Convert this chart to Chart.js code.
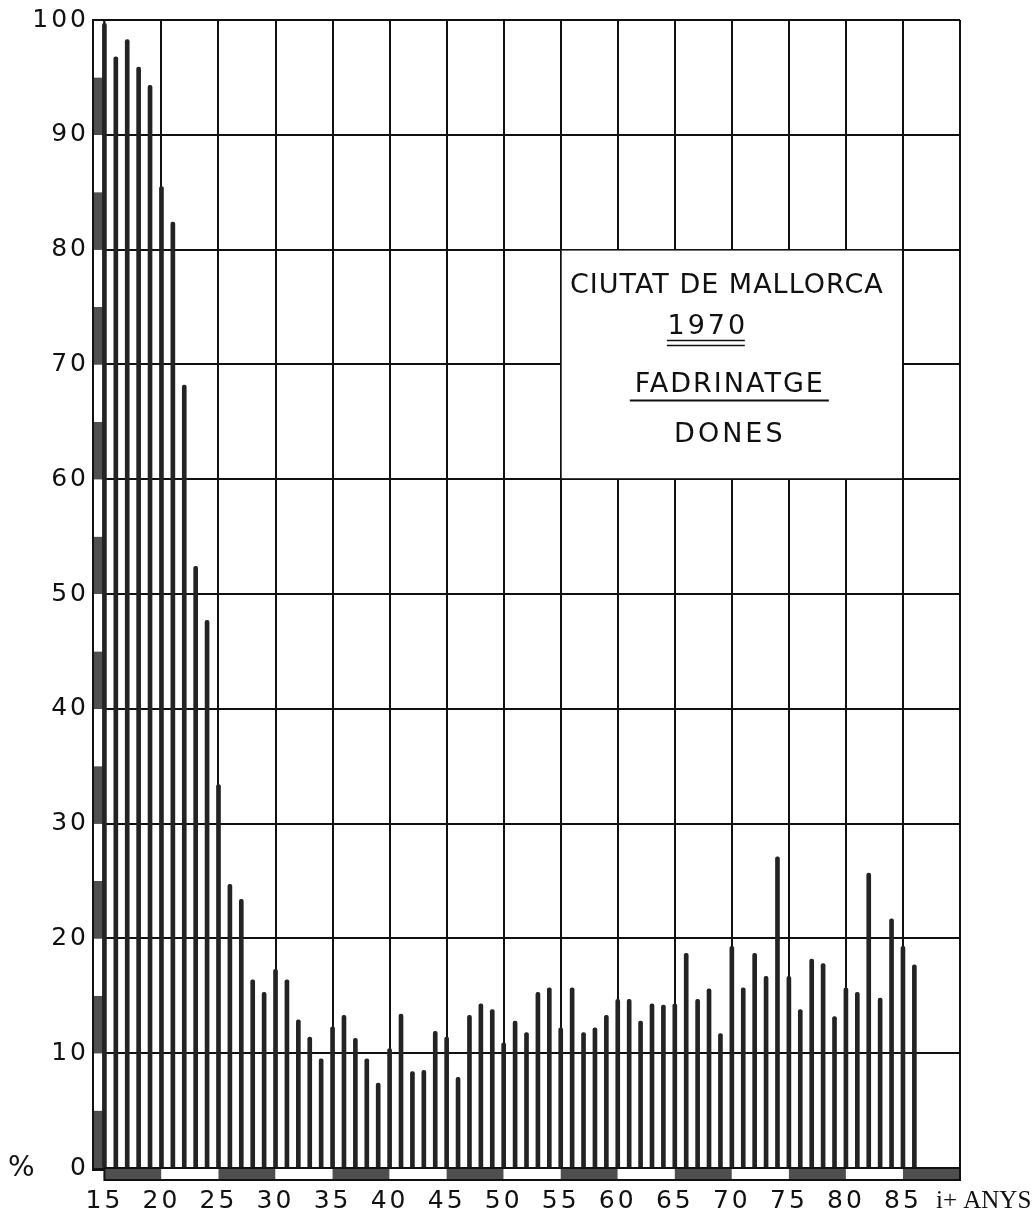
<!DOCTYPE html>
<html>
<head>
<meta charset="utf-8">
<title>Ciutat de Mallorca 1970 - Fadrinatge dones</title>
<script src="https://cdn.jsdelivr.net/npm/chart.js@4.4.1/dist/chart.umd.min.js"></script>
<style>
  html, body { margin: 0; padding: 0; background: #fff; }
  #wrap { width: 1036px; height: 1225px; }
</style>
</head>
<body>
<div id="wrap"><canvas id="fadrinatge-chart" width="1036" height="1225"></canvas></div>
<script>
// ages (the last bar stands for "85 i +")
const ages = [
  15, 16, 17, 18, 19, 20, 21, 22, 23, 24,
  25, 26, 27, 28, 29, 30, 31, 32, 33, 34,
  35, 36, 37, 38, 39, 40, 41, 42, 43, 44,
  45, 46, 47, 48, 49, 50, 51, 52, 53, 54,
  55, 56, 57, 58, 59, 60, 61, 62, 63, 64,
  65, 66, 67, 68, 69, 70, 71, 72, 73, 74,
  75, 76, 77, 78, 79, 80, 81, 82, 83, 84,
  85, 86
];

// % of single women at each age
const singlePct = [
  99.7, 96.8, 98.3, 95.9, 94.3, 85.5, 82.4, 68.2, 52.4, 47.7,
  33.4, 24.7, 23.4, 16.4, 15.3, 17.3, 16.4, 12.9, 11.4, 9.5,
  12.3, 13.3, 11.3, 9.5, 7.4, 10.4, 13.4, 8.4, 8.5, 11.9,
  11.4, 7.9, 13.3, 14.3, 13.8, 10.9, 12.8, 11.8, 15.3, 15.7,
  12.2, 15.7, 11.8, 12.2, 13.3, 14.7, 14.7, 12.8, 14.3, 14.2,
  14.3, 18.7, 14.7, 15.6, 11.7, 19.3, 15.7, 18.7, 16.7, 27.1,
  16.7, 13.8, 18.2, 17.8, 13.2, 15.7, 15.3, 25.7, 14.8, 21.7,
  19.3, 17.7
];

const xTicks = [14, 15, 20, 25, 30, 35, 40, 45, 50, 55, 60, 65, 70, 75, 80, 85, 90];
const yTicks = [0, 10, 20, 30, 40, 50, 60, 70, 80, 90, 100];
const boxTitle = ["CIUTAT DE MALLORCA", "1970", "FADRINATGE", "DONES"];
const xUnit = "i+ ANYS";

const INK = "#111";
const STIPPLE = "#4f4f4f";

const framePlugin = {
  id: "frame",
  beforeDraw(chart) {
    chart.ctx.letterSpacing = "3px";
  },
  beforeDatasetsDraw(chart) {
    const { ctx, scales: { x, y } } = chart;
    ctx.save();

    // left border strip, alternating every 5 %
    const sx0 = x.getPixelForValue(14), sx1 = x.getPixelForValue(15);
    for (let v = 0; v < 100; v += 5) {
      const top = y.getPixelForValue(v + 5), bot = y.getPixelForValue(v);
      ctx.fillStyle = (v / 5) % 2 === 0 ? STIPPLE : "#fff";
      ctx.fillRect(sx0 + 1, top, sx1 - sx0 - 2, bot - top);
    }
    ctx.strokeStyle = INK;
    ctx.lineWidth = 2;
    ctx.strokeRect(sx0, y.getPixelForValue(100), sx1 - sx0, y.getPixelForValue(0) - y.getPixelForValue(100) + 2);

    // bottom strip, alternating every 5 years
    const by0 = y.getPixelForValue(0), by1 = by0 + 12;
    for (let a = 15; a < 90; a += 5) {
      const l = x.getPixelForValue(a), r = x.getPixelForValue(a + 5);
      ctx.fillStyle = ((a - 15) / 5) % 2 === 0 ? STIPPLE : "#fff";
      ctx.fillRect(l, by0, r - l, by1 - by0);
    }
    ctx.strokeRect(x.getPixelForValue(15), by0, x.getPixelForValue(90) - x.getPixelForValue(15), by1 - by0);

    // white title box between ages 55-85 and 60-80 %
    const bl = x.getPixelForValue(55), br = x.getPixelForValue(85);
    const bt = y.getPixelForValue(80), bb = y.getPixelForValue(60);
    ctx.fillStyle = "#fff";
    ctx.fillRect(bl + 1, bt + 1, br - bl - 2, bb - bt - 2);

    ctx.fillStyle = INK;
    ctx.font = "27px 'DejaVu Sans'";
    ctx.textAlign = "center";
    ctx.textBaseline = "middle";
    ctx.letterSpacing = "1px";
    const cx = (bl + br) / 2;
    ctx.fillText(boxTitle[0], cx - 5, bt + 36);
    ctx.letterSpacing = "3px";
    ctx.fillText(boxTitle[1], cx - 24, bt + 77);
    ctx.letterSpacing = "2px";
    ctx.fillText(boxTitle[2], cx - 2, bt + 135);
    ctx.letterSpacing = "3px";
    ctx.fillText(boxTitle[3], cx - 2, bt + 185);

    // underlines
    ctx.lineWidth = 1.5;
    ctx.beginPath();
    ctx.moveTo(cx - 65, bt + 91); ctx.lineTo(cx + 13, bt + 91);
    ctx.moveTo(cx - 65, bt + 96); ctx.lineTo(cx + 13, bt + 96);
    ctx.stroke();
    ctx.lineWidth = 2;
    ctx.beginPath();
    ctx.moveTo(cx - 102, bt + 151); ctx.lineTo(cx + 97, bt + 151);
    ctx.stroke();
    ctx.restore();
  },
  afterDraw(chart) {
    const { ctx, scales: { x, y } } = chart;
    ctx.save();
    ctx.fillStyle = INK;
    ctx.textBaseline = "middle";
    ctx.letterSpacing = "2px";
    ctx.textAlign = "left";
    ctx.font = "28px 'DejaVu Sans'";
    ctx.fillText("%", 8, y.getPixelForValue(0) + 1);
    ctx.letterSpacing = "0px";
    ctx.font = "25px 'Liberation Serif'";
    ctx.fillText(xUnit, x.getPixelForValue(85) + 33, 1201);
    ctx.restore();
  }
};

const tickFont = { family: "DejaVu Sans", size: 25 };

new Chart(document.getElementById("fadrinatge-chart"), {
  type: "bar",
  data: {
    datasets: [
      {
        label: "Fadrinatge dones (%)",
        data: ages.map((a, i) => ({ x: a, y: singlePct[i] })),
        backgroundColor: "#232323",
        borderWidth: 0,
        barThickness: 4,
        borderRadius: { topLeft: 2, topRight: 2 },
        borderSkipped: "bottom",
      },
    ],
  },
  options: {
    responsive: false,
    animation: false,
    devicePixelRatio: 1,
    layout: { padding: { top: 20, right: 76, left: 0, bottom: 0 } },
    plugins: {
      legend: { display: false },
      tooltip: { enabled: false },
    },
    scales: {
      x: {
        type: "linear",
        min: 14,
        max: 90,
        offset: false,
        afterBuildTicks: (s) => { s.ticks = xTicks.map((v) => ({ value: v })); },
        afterFit: (s) => { s.height = 57; },
        grid: { color: INK, lineWidth: 2, drawTicks: false, offset: false },
        border: { color: INK, width: 2 },
        ticks: {
          padding: 18,
          color: INK,
          font: tickFont,
          maxRotation: 0,
          autoSkip: false,
          callback: (v) => (v === 14 || v === 90 ? "" : String(v)),
        },
      },
      y: {
        min: 0,
        max: 100,
        afterBuildTicks: (s) => { s.ticks = yTicks.map((v) => ({ value: v })); },
        afterFit: (s) => { s.width = 93; },
        grid: { color: INK, lineWidth: 2, drawTicks: false },
        border: { color: INK, width: 2 },
        ticks: {
          padding: 4,
          color: INK,
          font: tickFont,
          callback: (v) => String(v),
        },
      },
    },
  },
  plugins: [framePlugin],
});
</script>
</body>
</html>
